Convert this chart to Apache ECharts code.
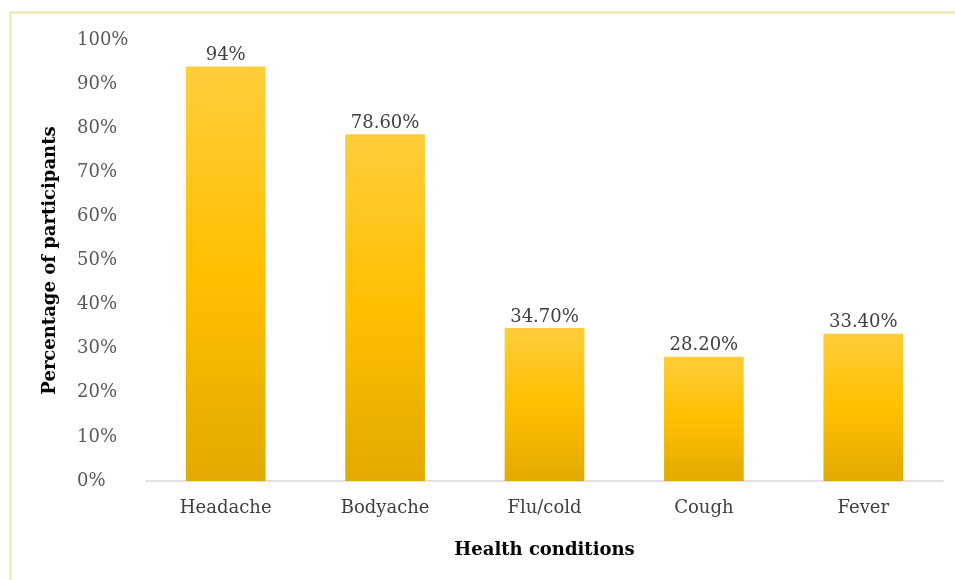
<!DOCTYPE html>
<html>
<head>
<meta charset="utf-8">
<style>
  html, body { margin: 0; padding: 0; background: #ffffff; }
  #chart { width: 955px; height: 580px; }
</style>
<script src="https://cdn.jsdelivr.net/npm/echarts@6/dist/echarts.min.js"></script>
</head>
<body>
<div id="chart"></div>
<script>
// Share of participants reporting each health condition
const categories = ['Headache', 'Bodyache', 'Flu/cold', 'Cough', 'Fever'];
const percentValues = [94, 78.6, 34.7, 28.2, 33.4];
const valueLabels = ['94%', '78.60%', '34.70%', '28.20%', '33.40%'];

const serif = '"DejaVu Serif", "Liberation Serif", serif';

const chart = echarts.init(document.getElementById('chart'), null, { renderer: 'canvas' });

chart.setOption({
  backgroundColor: '#ffffff',
  animation: false,
  graphic: [{
    type: 'rect',
    shape: { x: 10.5, y: 12.5, width: 970, height: 600 },
    style: { fill: 'none', stroke: '#ece6a8', lineWidth: 2 },
    silent: true
  }],
  grid: { left: 146, right: 12, top: 40, bottom: 99, containLabel: false },
  xAxis: {
    type: 'category',
    data: categories,
    name: 'Health conditions',
    nameLocation: 'middle',
    nameGap: 60,
    nameTextStyle: { fontFamily: serif, fontSize: 18, fontWeight: 'bold', color: '#000000' },
    axisLine: { lineStyle: { color: '#d9d9d9', width: 1.5 } },
    axisTick: { show: false },
    axisLabel: { fontFamily: serif, fontSize: 18, color: '#404040', margin: 18 }
  },
  yAxis: {
    type: 'value',
    min: 0,
    max: 100,
    interval: 10,
    name: 'Percentage of participants',
    nameLocation: 'middle',
    nameGap: 87,
    nameTextStyle: { fontFamily: serif, fontSize: 18, fontWeight: 'bold', color: '#000000' },
    axisLine: { show: false },
    axisTick: { show: false },
    splitLine: { show: false },
    axisLabel: { fontFamily: serif, fontSize: 18, color: '#595959', margin: 69, align: 'left', formatter: '{value}%' }
  },
  series: [{
    type: 'bar',
    data: percentValues,
    barWidth: '50%',
    itemStyle: {
      color: new echarts.graphic.LinearGradient(0, 0, 0, 1, [
        { offset: 0, color: '#ffcd3a' },
        { offset: 0.5, color: '#ffc000' },
        { offset: 1, color: '#e2aa00' }
      ])
    },
    label: {
      show: true,
      position: 'top',
      distance: 2,
      fontFamily: serif,
      fontSize: 18,
      color: '#404040',
      formatter: p => valueLabels[p.dataIndex]
    }
  }]
});
</script>
</body>
</html>
